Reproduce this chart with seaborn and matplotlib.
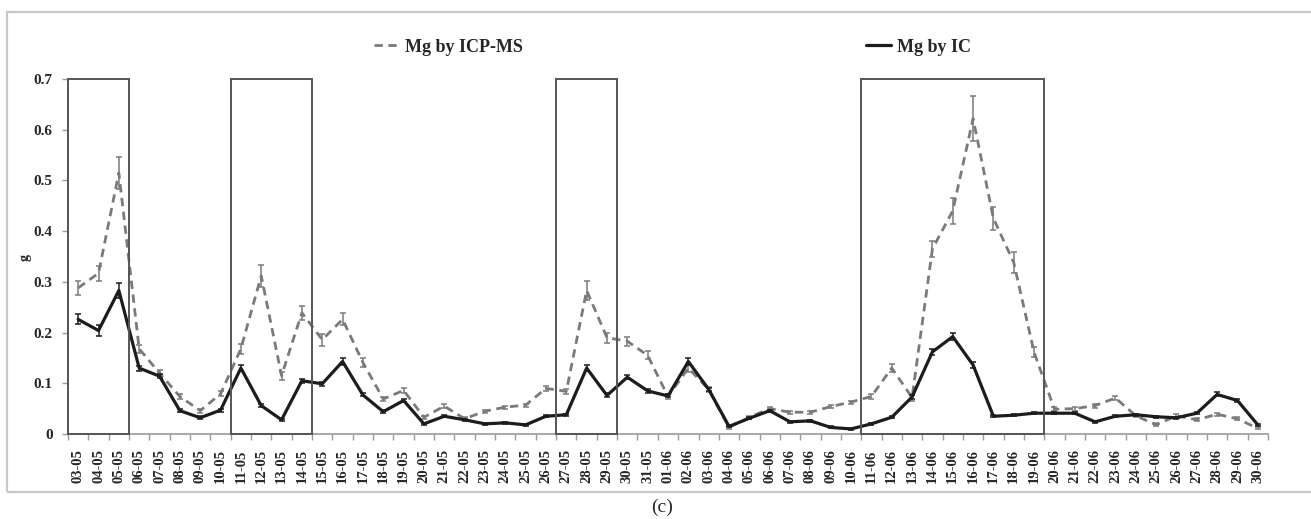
import numpy as np
import pandas as pd
import matplotlib
matplotlib.use("Agg")
import matplotlib.pyplot as plt
from matplotlib.patches import Rectangle
from matplotlib.lines import Line2D
import seaborn as sns

# ---- data -------------------------------------------------------------
dates = (
    [f"{d:02d}-05" for d in range(3, 32)] +
    [f"{d:02d}-06" for d in range(1, 31)]
)

mg_icpms = [
    0.288, 0.317, 0.515, 0.168, 0.120, 0.074, 0.046, 0.079, 0.168, 0.312,
    0.115, 0.239, 0.186, 0.226, 0.141, 0.069, 0.086, 0.033, 0.055, 0.030,
    0.045, 0.053, 0.057, 0.090, 0.084, 0.283, 0.190, 0.183, 0.155, 0.074,
    0.130, 0.088, 0.013, 0.033, 0.050, 0.043, 0.043, 0.054, 0.063, 0.074,
    0.130, 0.072, 0.365, 0.440, 0.622, 0.425, 0.338, 0.161, 0.049, 0.050,
    0.056, 0.071, 0.036, 0.018, 0.036, 0.028, 0.039, 0.030, 0.011,
]
mg_icpms_err = [
    0.014, 0.015, 0.032, 0.008, 0.006, 0.004, 0.004, 0.005, 0.010, 0.022,
    0.008, 0.014, 0.012, 0.012, 0.008, 0.004, 0.005, 0.003, 0.004, 0.003,
    0.003, 0.003, 0.003, 0.005, 0.005, 0.018, 0.010, 0.009, 0.008, 0.004,
    0.008, 0.005, 0.003, 0.003, 0.004, 0.003, 0.003, 0.003, 0.003, 0.004,
    0.008, 0.006, 0.016, 0.025, 0.045, 0.022, 0.020, 0.010, 0.004, 0.004,
    0.004, 0.004, 0.003, 0.003, 0.003, 0.003, 0.003, 0.003, 0.002,
]

mg_ic = [
    0.226, 0.204, 0.283, 0.130, 0.114, 0.046, 0.032, 0.047, 0.130, 0.056,
    0.028, 0.105, 0.099, 0.143, 0.077, 0.044, 0.066, 0.020, 0.035, 0.028,
    0.020, 0.022, 0.018, 0.035, 0.038, 0.130, 0.076, 0.112, 0.085, 0.075,
    0.143, 0.088, 0.015, 0.031, 0.046, 0.024, 0.026, 0.013, 0.010, 0.020,
    0.033, 0.073, 0.162, 0.192, 0.136, 0.035, 0.037, 0.041, 0.041, 0.041,
    0.024, 0.035, 0.038, 0.034, 0.032, 0.041, 0.078, 0.066, 0.018,
]
mg_ic_err = [
    0.010, 0.010, 0.015, 0.005, 0.004, 0.003, 0.003, 0.003, 0.006, 0.003,
    0.002, 0.004, 0.004, 0.006, 0.003, 0.003, 0.003, 0.002, 0.002, 0.002,
    0.002, 0.002, 0.002, 0.002, 0.002, 0.006, 0.004, 0.004, 0.004, 0.003,
    0.006, 0.003, 0.002, 0.002, 0.002, 0.002, 0.002, 0.002, 0.002, 0.002,
    0.002, 0.004, 0.006, 0.007, 0.005, 0.002, 0.002, 0.002, 0.002, 0.002,
    0.002, 0.002, 0.002, 0.002, 0.002, 0.002, 0.004, 0.003, 0.002,
]

# highlighted sampling periods (first day, last day)
periods = [("03-05", "05-05"), ("11-05", "14-05"),
           ("27-05", "29-05"), ("11-06", "19-06")]

series_names = ["Mg by ICP-MS", "Mg by IC"]

# ---- long table for seaborn -------------------------------------------
idx = np.arange(len(dates))
df = pd.concat([
    pd.DataFrame({"pos": idx, "date": dates, "value": mg_icpms,
                  "err": mg_icpms_err, "method": series_names[0]}),
    pd.DataFrame({"pos": idx, "date": dates, "value": mg_ic,
                  "err": mg_ic_err, "method": series_names[1]}),
])

# ---- style ------------------------------------------------------------
sns.set_theme(style="white")
plt.rcParams["font.family"] = ["Liberation Serif", "DejaVu Serif"]
plt.rcParams["font.weight"] = "bold"

colors = {series_names[0]: "#7a7a7a", series_names[1]: "#1c1c1c"}
widths = {series_names[0]: 2.0, series_names[1]: 2.3}
dashes = {series_names[0]: (3.0, 2.0), series_names[1]: ""}

fig = plt.figure(figsize=(13.11, 5.19), dpi=100)
ax = fig.add_axes([68 / 1311, 1 - 434 / 519, 1200 / 1311, (434 - 79) / 519])

for name in series_names:
    sub = df[df["method"] == name]
    sns.lineplot(data=sub, x="pos", y="value", ax=ax, color=colors[name],
                 linewidth=widths[name], dashes=False, legend=False,
                 zorder=3 if name == series_names[1] else 2)
    if dashes[name]:
        ax.lines[-1].set_dashes(dashes[name])
    ax.errorbar(sub["pos"], sub["value"], yerr=sub["err"], fmt="none",
                ecolor=colors[name], elinewidth=1.1, capsize=2.2,
                capthick=1.1, zorder=2)

# highlighted periods
for start, end in periods:
    i0, i1 = dates.index(start), dates.index(end)
    ax.add_patch(Rectangle((i0 - 0.5, 0), i1 - i0 + 1, 0.7, fill=False,
                           edgecolor="#555555", linewidth=1.4, zorder=4,
                           clip_on=False))

# ---- axes -------------------------------------------------------------
ax.set_xlim(-0.5, len(dates) - 0.5)
ax.set_ylim(0, 0.7)
ax.set_xticks(idx)
ax.set_xticklabels(dates, rotation=90, fontsize=10.5, fontweight="bold")
ax.set_xticks(np.arange(-0.5, len(dates) + 0.5, 1), minor=True)
ax.tick_params(axis="x", which="major", length=0, pad=11)
ax.tick_params(axis="x", which="minor", length=4, width=1, color="#9a9a9a",
               direction="out", bottom=True)
ax.set_yticks(np.arange(0, 0.71, 0.1))
ax.set_yticklabels(["0"] + [f"{v:.1f}" for v in np.arange(0.1, 0.71, 0.1)],
                   fontsize=11, fontweight="bold")
ax.tick_params(axis="y", length=4, width=1, color="#9a9a9a", pad=7, left=True)
ax.set_xlabel("")
ax.set_ylabel("")
for side in ("top", "right"):
    ax.spines[side].set_visible(False)
for side in ("bottom", "left"):
    ax.spines[side].set_color("#9a9a9a")
    ax.spines[side].set_linewidth(1.2)

fig.text(25 / 1311, 1 - 257 / 519, "g", rotation=90, fontsize=10,
         fontweight="bold", ha="center", va="center")

# ---- legend entries ---------------------------------------------------
for name, xpos in zip(series_names, (374, 866)):
    handle = Line2D([], [], color=colors[name], linewidth=widths[name])
    if dashes[name]:
        handle.set_dashes(dashes[name])
    leg = fig.legend([handle], [name], loc="center left",
                     bbox_to_anchor=(xpos / 1311, 1 - 47 / 519),
                     frameon=False, borderpad=0, borderaxespad=0,
                     handlelength=1.4, handletextpad=0.3,
                     prop={"family": "Liberation Serif", "weight": "bold",
                           "size": 13})

# outer frame and panel tag
fig.patches.append(Rectangle((7 / 1311, 1 - 492 / 519), 1.1, (492 - 12) / 519,
                             transform=fig.transFigure, fill=False,
                             edgecolor="#c8c8c8", linewidth=1.6))
fig.text(662 / 1311, 1 - 507 / 519, "(c)", fontsize=14, fontweight="normal",
         ha="center", va="center")

fig.savefig("out.png", dpi=100)
